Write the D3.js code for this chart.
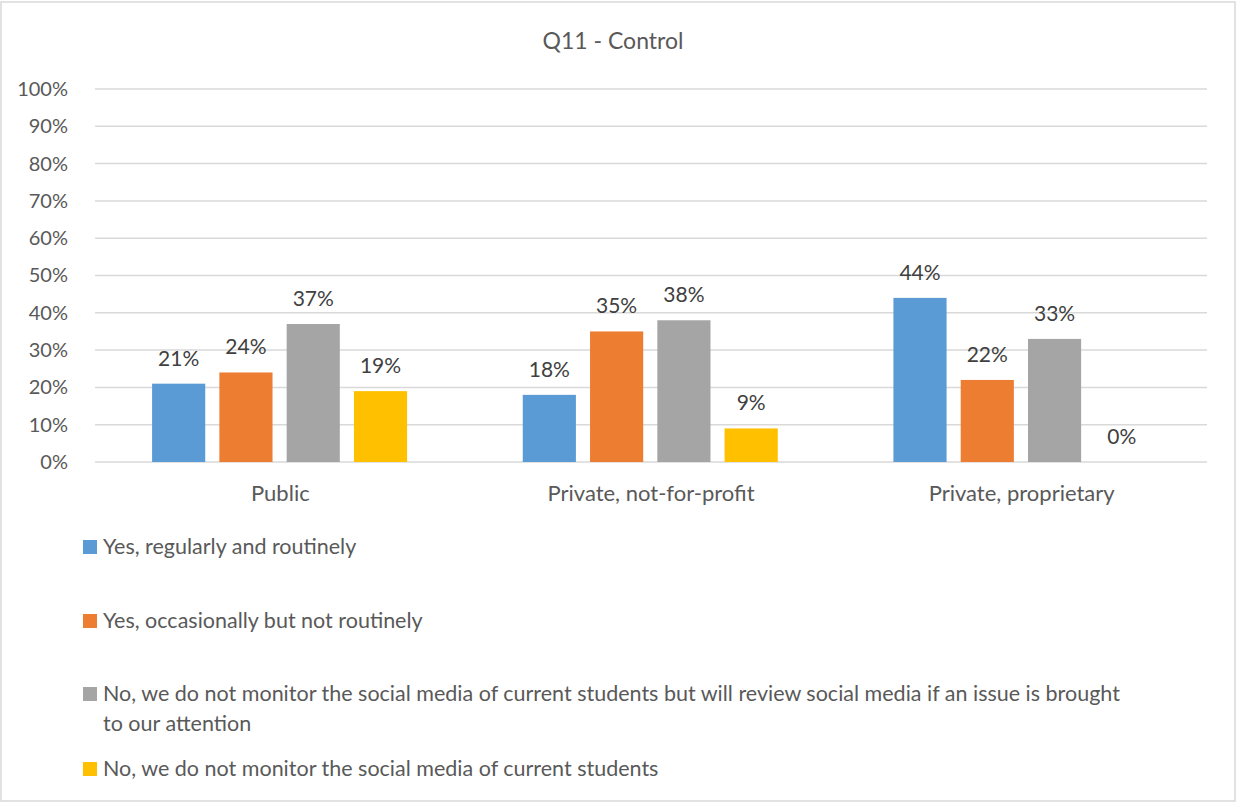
<!DOCTYPE html>
<html lang="en">
<head>
    <meta charset="UTF-8">
    <title>Q11 - Control</title>
    <script src="https://cdn.jsdelivr.net/npm/d3@7"></script>
    <style>
        body { margin: 0; background: #fff; }
        text { font-family: Lato, "Open Sans", sans-serif; }
    </style>
</head>
<body>
<svg width="1238" height="803"></svg>
<script>

    const title = "Q11 - Control"
    const categories = ["Public", "Private, not-for-profit", "Private, proprietary"]
    const seriesNames = [
        "Yes, regularly and routinely",
        "Yes, occasionally but not routinely",
        "No, we do not monitor the social media of current students but will review social media if an issue is brought to our attention",
        "No, we do not monitor the social media of current students"
    ]
    const seriesColors = ["#5B9BD5", "#ED7D31", "#A5A5A5", "#FFC000"]
    // one row per series, one value per category (%)
    const values = [
        [21, 18, 44],
        [24, 35, 22],
        [37, 38, 33],
        [19, 9, 0]
    ]
    const yTicks = [0, 10, 20, 30, 40, 50, 60, 70, 80, 90, 100]

    const width = 1238
    const height = 803
    const plot = {left: 95, right: 1207, top: 89, bottom: 462}

    const svg = d3.select("svg")

    // outer frame
    svg.append("rect")
        .attr("x", 1).attr("y", 2)
        .attr("width", 1234).attr("height", 799)
        .attr("fill", "none")
        .attr("stroke", "#d9d9d9")
        .attr("stroke-width", 1.5)

    svg.append("text")
        .attr("x", 613).attr("y", 49)
        .attr("text-anchor", "middle")
        .attr("font-size", 23)
        .attr("fill", "#595959")
        .text(title)

    const y = d3.scaleLinear().domain([0, 100]).range([plot.bottom, plot.top])
    const x0 = d3.scaleBand().domain(categories).range([plot.left, plot.right])
    const groupW = x0.bandwidth()
    const x1 = d3.scaleBand()
        .domain(d3.range(seriesNames.length))
        .range([groupW * 0.154, groupW * 0.842])
        .paddingInner(0.21)

    // gridlines
    svg.append("g").selectAll("line")
        .data(yTicks)
        .join("line")
        .attr("x1", plot.left).attr("x2", plot.right)
        .attr("y1", d => y(d)).attr("y2", d => y(d))
        .attr("stroke", "#d9d9d9")
        .attr("stroke-width", 1.5)

    const yAxis = svg.append("g")
        .attr("transform", `translate(${plot.left - 24},0)`)
        .call(d3.axisLeft(y).tickValues(yTicks).tickSize(0).tickFormat(d => d + "%"))
    yAxis.select(".domain").remove()
    yAxis.selectAll("text")
        .attr("font-size", 20)
        .attr("fill", "#595959")
        .attr("font-family", "Lato, 'Open Sans', sans-serif")

    const xAxis = svg.append("g")
        .attr("transform", `translate(0,${plot.bottom + 20})`)
        .call(d3.axisBottom(x0).tickSize(0))
    xAxis.select(".domain").remove()
    xAxis.selectAll("text")
        .attr("font-size", 22)
        .attr("fill", "#595959")
        .attr("font-family", "Lato, 'Open Sans', sans-serif")

    const groups = svg.append("g").selectAll("g")
        .data(values)
        .join("g")
        .attr("fill", (d, i) => seriesColors[i])

    groups.each(function (row, s) {
        const g = d3.select(this)
        g.selectAll("rect")
            .data(row)
            .join("rect")
            .attr("x", (d, c) => x0(categories[c]) + x1(s))
            .attr("width", x1.bandwidth())
            .attr("y", d => y(d))
            .attr("height", d => y(0) - y(d))
        g.selectAll("text")
            .data(row)
            .join("text")
            .attr("x", (d, c) => x0(categories[c]) + x1(s) + x1.bandwidth() / 2)
            .attr("y", d => y(d) - 18)
            .attr("text-anchor", "middle")
            .attr("font-size", 21)
            .attr("fill", "#404040")
            .text(d => d + "%")
    })

    // legend, one entry per row
    const legendY = [547, 621, 694, 769]
    const legend = svg.append("g").selectAll("g")
        .data(seriesNames)
        .join("g")
        .attr("transform", (d, i) => `translate(83,${legendY[i]})`)
    legend.append("rect")
        .attr("x", 0).attr("y", -7)
        .attr("width", 14).attr("height", 14)
        .attr("fill", (d, i) => seriesColors[i])
    legend.append("text")
        .attr("x", 20).attr("y", 7)
        .attr("font-size", 21.5)
        .attr("fill", "#595959")
        .each(function (d) {
            const t = d3.select(this)
            const words = d.split(" ")
            let line = []
            let tspan = t.append("tspan").attr("x", 20).attr("dy", 0)
            words.forEach(w => {
                line.push(w)
                tspan.text(line.join(" "))
                if (tspan.node().getComputedTextLength() > 1035 && line.length > 1) {
                    line.pop()
                    tspan.text(line.join(" "))
                    line = [w]
                    tspan = t.append("tspan").attr("x", 20).attr("dy", 29.5).text(w)
                }
            })
        })

</script>
</body>
</html>
